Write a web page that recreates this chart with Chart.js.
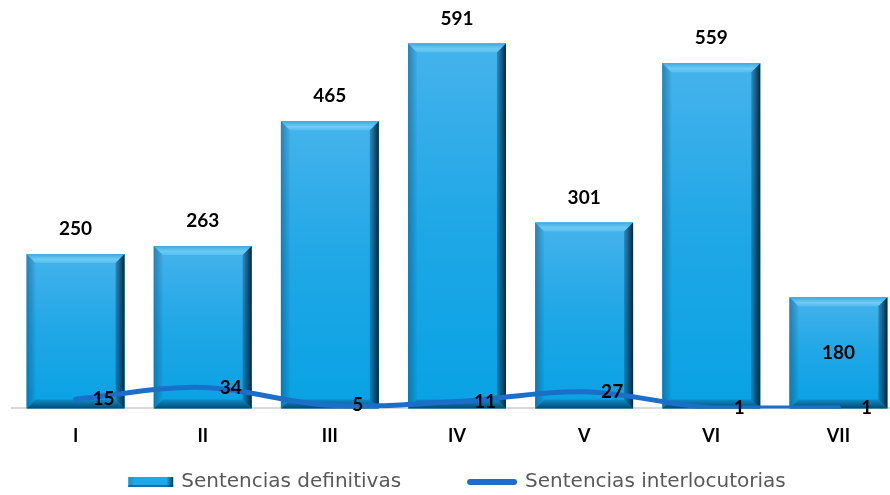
<!DOCTYPE html>
<html>
<head>
<meta charset="utf-8">
<script src="https://cdn.jsdelivr.net/npm/chart.js@4.4.1/dist/chart.umd.min.js"></script>
<style>
  html, body { margin: 0; padding: 0; background: #ffffff; overflow: hidden; }
  #wrap { width: 912px; height: 495px; }
</style>
</head>
<body>
<div id="wrap"><canvas id="c" width="912" height="495"></canvas></div>
<script>
const categories = ['I', 'II', 'III', 'IV', 'V', 'VI', 'VII'];
const definitivas = [250, 263, 465, 591, 301, 559, 180];
const interlocutorias = [15, 34, 5, 11, 27, 1, 1];
const seriesNames = ['Sentencias definitivas', 'Sentencias interlocutorias'];

const BAR_COLOR = '#1AA6E4';
const LINE_COLOR = '#1C6FC8';

const bevelPlugin = {
  id: 'bevel',
  afterDatasetDraw(chart, args) {
    if (args.index !== 0) return;
    const ctx = chart.ctx;
    const meta = chart.getDatasetMeta(0);
    meta.data.forEach(el => {
      const w = el.width;
      const L = el.x - w / 2, R = el.x + w / 2, T = el.y, B = el.base;
      const b = 9;
      ctx.save();
      const g = ctx.createLinearGradient(0, T, 0, B);
      g.addColorStop(0, '#45B3EC');
      g.addColorStop(0.5, '#1FA7E6');
      g.addColorStop(1, '#08A2E4');
      ctx.fillStyle = g;
      ctx.fillRect(L, T, w, B - T);
      ctx.beginPath();
      ctx.moveTo(L, T); ctx.lineTo(R, T); ctx.lineTo(R - b, T + b); ctx.lineTo(L + b, T + b); ctx.closePath();
      const gt = ctx.createLinearGradient(0, T, 0, T + b);
      gt.addColorStop(0, '#3EA9DF');
      gt.addColorStop(0.6, '#6CCBF4');
      gt.addColorStop(1, '#55BDEF');
      ctx.fillStyle = gt; ctx.fill();
      ctx.beginPath();
      ctx.moveTo(L, T); ctx.lineTo(L + b, T + b); ctx.lineTo(L + b, B - b); ctx.lineTo(L, B); ctx.closePath();
      const gl = ctx.createLinearGradient(L, 0, L + b, 0);
      gl.addColorStop(0, 'rgba(10,70,110,0.45)');
      gl.addColorStop(1, 'rgba(10,70,110,0.05)');
      ctx.fillStyle = gl; ctx.fill();
      ctx.beginPath();
      ctx.moveTo(R, T); ctx.lineTo(R, B); ctx.lineTo(R - b, B - b); ctx.lineTo(R - b, T + b); ctx.closePath();
      const gr = ctx.createLinearGradient(R - b, 0, R, 0);
      gr.addColorStop(0, 'rgba(8,60,100,0.35)');
      gr.addColorStop(1, 'rgba(4,30,50,0.95)');
      ctx.fillStyle = gr; ctx.fill();
      ctx.beginPath();
      ctx.moveTo(L, B); ctx.lineTo(L + b, B - b); ctx.lineTo(R - b, B - b); ctx.lineTo(R, B); ctx.closePath();
      const gb = ctx.createLinearGradient(0, B - b, 0, B);
      gb.addColorStop(0, 'rgba(10,70,110,0.25)');
      gb.addColorStop(1, 'rgba(5,40,70,0.75)');
      ctx.fillStyle = gb; ctx.fill();
      ctx.restore();
    });
  }
};

const labelPlugin = {
  id: 'valueLabels',
  afterDatasetsDraw(chart) {
    const ctx = chart.ctx;
    ctx.save();
    ctx.fillStyle = '#000000';
    ctx.font = 'bold 19px Lato, "Liberation Sans", sans-serif';
    ctx.textAlign = 'center';
    ctx.textBaseline = 'middle';
    const bars = chart.getDatasetMeta(0).data;
    bars.forEach((el, i) => {
      const v = chart.data.datasets[0].data[i];
      if (i === bars.length - 1) {
        ctx.fillText(String(v), el.x, (el.y + el.base) / 2);
      } else {
        ctx.fillText(String(v), el.x, el.y - 25);
      }
    });
    const pts = chart.getDatasetMeta(1).data;
    pts.forEach((p, i) => {
      const v = chart.data.datasets[1].data[i];
      ctx.fillText(String(v), p.x + 28, p.y);
    });
    ctx.restore();
  }
};

const legendPlugin = {
  id: 'customLegend',
  afterDraw(chart) {
    const ctx = chart.ctx;
    ctx.save();
    ctx.font = '20px "DejaVu Sans", sans-serif';
    ctx.textBaseline = 'middle';
    ctx.textAlign = 'left';
    const y = 482;
    const boxW = 45, lineW = 50, gapBoxText = 8, gapItems = 66;
    const t1 = chart.data.datasets[0].label, t2 = chart.data.datasets[1].label;
    const w1 = ctx.measureText(t1).width, w2 = ctx.measureText(t2).width;
    const total = boxW + gapBoxText + w1 + gapItems + lineW + gapBoxText + w2;
    let x = chart.width / 2 - total / 2 + 1;
    const g = ctx.createLinearGradient(x, 0, x + boxW, 0);
    g.addColorStop(0, '#1B8FC8');
    g.addColorStop(0.15, '#1FA7E6');
    g.addColorStop(0.85, '#1FA7E6');
    g.addColorStop(1, '#0A3D5E');
    ctx.fillStyle = g;
    ctx.fillRect(x, y - 5, boxW, 10);
    ctx.fillStyle = 'rgba(10,60,100,0.5)';
    ctx.fillRect(x, y + 3, boxW, 2);
    x += boxW + gapBoxText;
    ctx.fillStyle = '#595959';
    ctx.fillText(t1, x, y);
    x += w1 + gapItems;
    ctx.strokeStyle = LINE_COLOR;
    ctx.lineWidth = 6;
    ctx.lineCap = 'round';
    ctx.beginPath();
    ctx.moveTo(x + 3, y); ctx.lineTo(x + lineW - 3, y);
    ctx.stroke();
    x += lineW + gapBoxText;
    ctx.fillStyle = '#595959';
    ctx.fillText(t2, x, y);
    ctx.restore();
  }
};

new Chart(document.getElementById('c'), {
  data: {
    labels: categories,
    datasets: [
      {
        type: 'bar',
        label: seriesNames[0],
        data: definitivas,
        backgroundColor: BAR_COLOR,
        borderWidth: 0,
        categoryPercentage: 1.0,
        barPercentage: 0.77,
        order: 2
      },
      {
        type: 'line',
        label: seriesNames[1],
        data: interlocutorias,
        borderColor: LINE_COLOR,
        backgroundColor: LINE_COLOR,
        borderWidth: 5,
        tension: 0.35,
        pointRadius: 0,
        borderCapStyle: 'round',
        fill: false,
        order: 1
      }
    ]
  },
  options: {
    responsive: false,
    animation: false,
    layout: { padding: { left: 12, right: 10, top: 7, bottom: 39 } },
    scales: {
      x: {
        grid: { display: false },
        border: { display: true, color: '#D9D9D9', width: 2 },
        ticks: {
          color: '#000000',
          padding: 9,
          font: { family: 'Lato, "Liberation Sans", sans-serif', size: 18, weight: 'bold' }
        }
      },
      y: {
        display: false,
        min: 0,
        max: 650
      }
    },
    plugins: {
      tooltip: { enabled: false },
      legend: { display: false }
    }
  },
  plugins: [bevelPlugin, labelPlugin, legendPlugin]
});
</script>
</body>
</html>
